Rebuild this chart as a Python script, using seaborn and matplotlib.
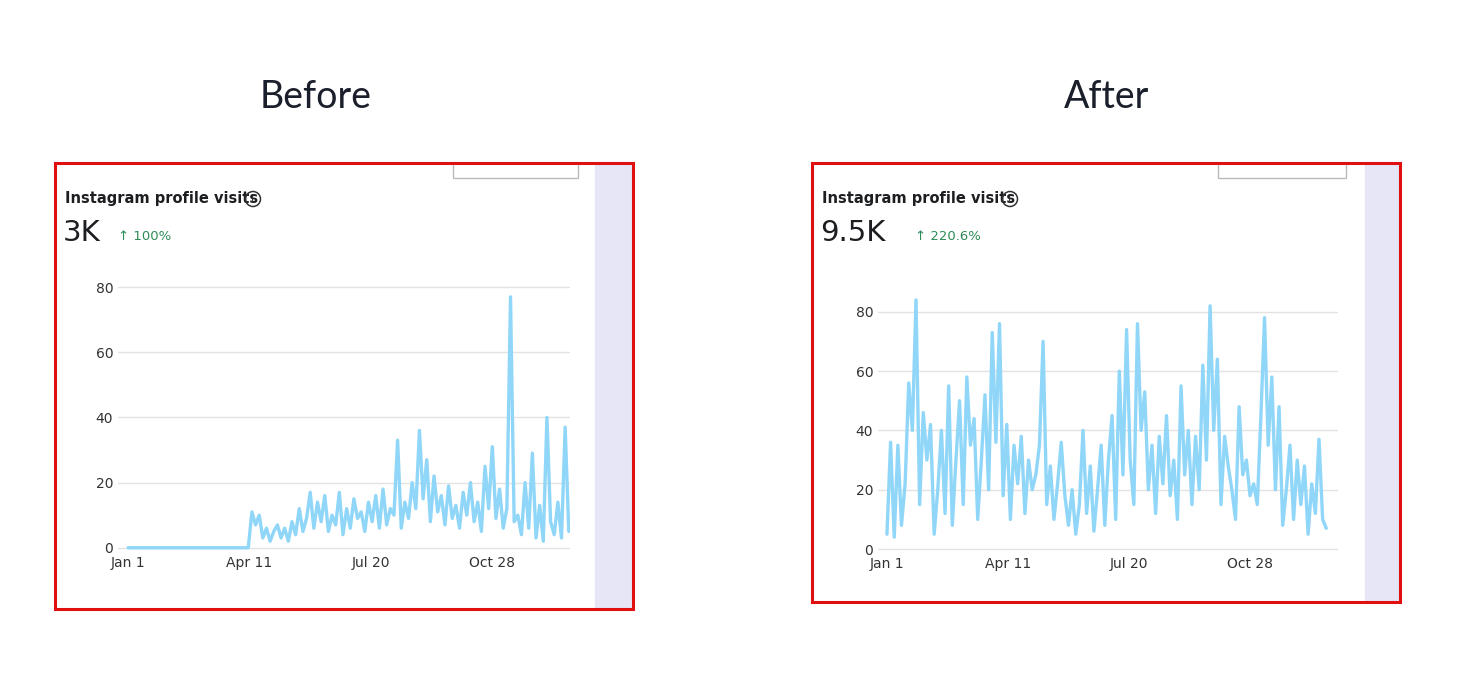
import matplotlib
matplotlib.use("Agg")
import matplotlib.pyplot as plt
import seaborn as sns
import pandas as pd
import numpy as np
from matplotlib.patches import Rectangle, Circle

sns.set_theme(style="white")
plt.rcParams['font.family'] = ['DejaVu Sans']

tick_days = [0, 100, 200, 300]
tick_labels = ["Jan 1", "Apr 11", "Jul 20", "Oct 28"]
y_ticks = [0, 20, 40, 60, 80]

before_zeros = [0] * 34
before_rest = [11,7,10,3,6,2,5,7,3,6,2,8,4,12,5,9,17,6,14,8,16,5,10,7,17,4,12,6,15,9,11,5,14,8,16,6,18,7,12,10,33,6,14,9,20,12,36,15,27,8,22,11,16,7,19,9,13,6,17,10,20,8,14,5,25,12,31,9,18,6,12,77,8,10,4,20,6,29,3,13,2,40,8,4,14,3,37,5]
before_values = before_zeros + before_rest
after_values = [5,36,4,35,8,22,56,40,84,15,46,30,42,5,20,40,12,55,8,30,50,15,58,35,44,10,30,52,20,73,36,76,18,42,10,35,22,38,12,30,20,25,35,70,15,28,10,22,36,18,8,20,5,15,40,12,28,6,20,35,8,30,45,10,60,25,74,30,15,76,40,53,20,35,12,38,22,45,18,30,10,55,25,40,15,38,20,62,30,82,40,64,15,38,28,20,10,48,25,30,18,22,15,45,78,35,58,20,48,8,20,35,10,30,15,28,5,22,12,37,10,7]

W, H = 1463, 698
fig = plt.figure(figsize=(W/100, H/100), dpi=100)

def px(x0, y0, x1, y1):
    return [x0/W, 1 - y1/H, (x1-x0)/W, (y1-y0)/H]

bg = fig.add_axes([0, 0, 1, 1]); bg.set_xlim(0, W); bg.set_ylim(H, 0); bg.axis("off")

def panel(box, lav_x, title, title_x, big, pct, btn):
    x0, y0, x1, y1 = box
    bg.add_patch(Rectangle((lav_x, y0), x1-lav_x, y1-y0, color="#e6e6f7", zorder=1))
    bg.add_patch(Rectangle((btn[0], y0-6), btn[1]-btn[0], 21, fill=False, ec="#bbbbbb", lw=1, zorder=2))
    bg.add_patch(Rectangle((btn[0]-2, y0-12), btn[1]-btn[0]+4, 11, color="white", zorder=2.5))
    bg.add_patch(Rectangle((x0, y0), x1-x0, y1-y0, fill=False, ec="#e01010", lw=2.2, zorder=3))
    bg.text(title_x, 97, title, fontsize=27, ha="center", va="center", color="#1a1f2b", family="Lato")
    bg.text(x0+10, y0+36, "Instagram profile visits", fontsize=10.5, fontweight="bold", color="#1c1e21", va="center")
    cx = x0 + 198
    bg.add_patch(Circle((cx, y0+36), 7.5, fill=False, ec="#333", lw=1.1, zorder=4))
    bg.text(cx, y0+36.5, "i", fontsize=8, color="#333", ha="center", va="center")
    bg.text(x0+8, y0+70, big, fontsize=21, color="#1c1e21", va="center")
    bg.text(x0+8 + (55 if len(big) < 3 else 95), y0+74, "↑ " + pct, fontsize=9.5, color="#2e8b57", va="center")

panel((55, 163, 633, 609), 595, "Before", 316, "3K", "100%", (453, 578))
panel((812, 163, 1400, 602), 1365, "After", 1107, "9.5K", "220.6%", (1218, 1346))

def chart(rect, xlim, ylim, values):
    ax = fig.add_axes(px(*rect))
    df = pd.DataFrame({"day": np.arange(len(values)) * 3, "v": values})
    sns.lineplot(data=df, x="day", y="v", ax=ax, color="#8fd6f8", lw=2.4)
    ax.set_xlim(*xlim); ax.set_ylim(*ylim)
    ax.set_yticks(y_ticks); ax.set_xticks(tick_days); ax.set_xticklabels(tick_labels)
    ax.yaxis.grid(True, color="#e3e3e3", lw=1); ax.set_axisbelow(True)
    for s in ax.spines.values(): s.set_visible(False)
    ax.set_xlabel(""); ax.set_ylabel("")
    ax.tick_params(labelsize=10, colors="#333", length=0)
    ax.patch.set_alpha(0)

chart((118, 274, 570, 551), (-8.3, 364), (-1, 84), before_values)
chart((878, 294, 1338, 552), (-7.4, 372.7), (-1, 86), after_values)

fig.savefig("out.png", dpi=100, facecolor="white")
